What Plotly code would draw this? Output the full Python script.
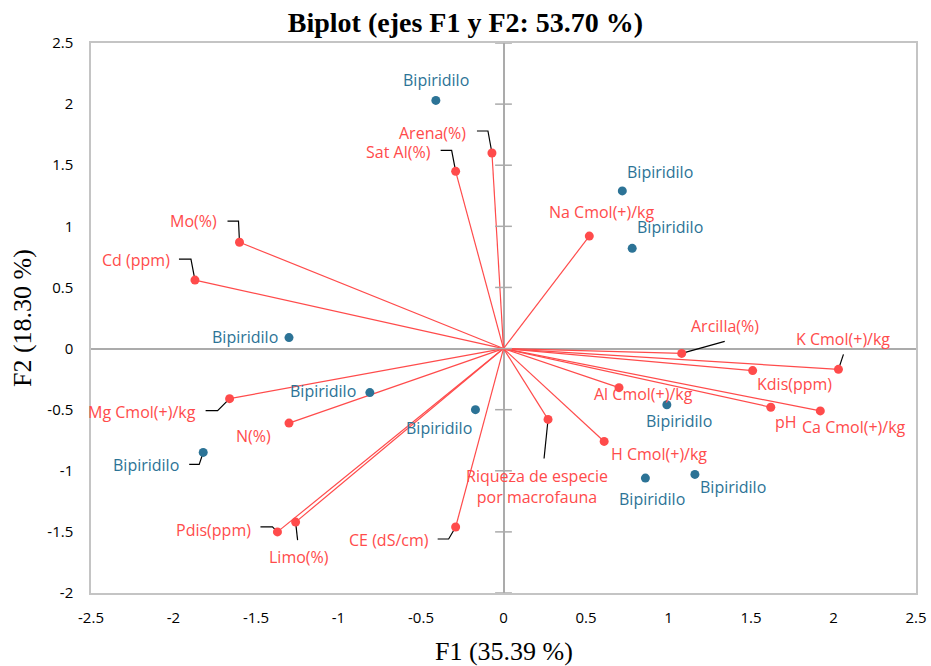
import plotly.graph_objects as go

# ---- data ----
var_names = ["Arena(%)", "Sat Al(%)", "Mo(%)", "Cd (ppm)", "Na Cmol(+)/kg", "Arcilla(%)",
             "K Cmol(+)/kg", "Kdis(ppm)", "Al Cmol(+)/kg", "pH", "Ca Cmol(+)/kg",
             "H Cmol(+)/kg", "Riqueza de especie<br>por macrofauna", "Mg Cmol(+)/kg",
             "N(%)", "Pdis(ppm)", "Limo(%)", "CE (dS/cm)"]
var_f1 = [-0.07, -0.29, -1.60, -1.87, 0.52, 1.08, 2.03, 1.51, 0.70, 1.62, 1.92,
          0.61, 0.27, -1.66, -1.30, -1.37, -1.26, -0.29]
var_f2 = [1.60, 1.45, 0.87, 0.56, 0.92, -0.04, -0.17, -0.18, -0.32, -0.48, -0.51,
          -0.76, -0.58, -0.41, -0.61, -1.50, -1.42, -1.46]

obs_name = "Bipiridilo"
obs_f1 = [-0.41, 0.72, 0.78, -1.30, -0.81, -0.17, -1.82, 0.99, 0.86, 1.16]
obs_f2 = [2.03, 1.29, 0.82, 0.09, -0.36, -0.50, -0.85, -0.46, -1.06, -1.03]

x_ticks = [-2.5, -2, -1.5, -1, -0.5, 0, 0.5, 1, 1.5, 2, 2.5]
y_ticks = [-2, -1.5, -1, -0.5, 0, 0.5, 1, 1.5, 2, 2.5]

# ---- styling / layout (pixel offsets for labels) ----
W, H = 931, 666
ML, MR, MT, MB = 91, 15, 43, 73
XR = [-2.5, 2.5]
YR = [-2, 2.5]
px_x = (W - ML - MR) / (XR[1] - XR[0])
px_y = (H - MT - MB) / (YR[1] - YR[0])

RED = "#FF4B4B"
BLUE = "#2C7396"
AX = "#ABABAB"
LABEL_FONT = "Open Sans"
LABEL_SIZE = 16

var_label_off = [(-59, -20), (-57, -19), (-46, -21), (-59, -20), (13, -24), (43, -27),
                 (5, -30), (42, 13), (24, 6), (15, 15), (34, 16), (55, 13), (-11, 67),
                 (-88, 13), (-36, 13), (-64, -2), (3, 35), (-67, 13)]
obs_label_off = [(0, -20), (38, -19), (38, -21), (-44, -1), (-47, -2), (-36, 18),
                 (-57, 13), (12, 16), (7, 21), (38, 13)]

# leader lines: (kind, index, list of pixel offsets relative to point)
leaders = [
    ("v", 0, [(-15, -22), (-4, -22), (0, 0)]),
    ("v", 1, [(-15, -21), (-4, -21), (0, 0)]),
    ("v", 2, [(-12, -21), (-1, -21), (0, 0)]),
    ("v", 3, [(-16, -21), (-4, -21), (0, 0)]),
    ("v", 13, [(-24, 12), (-12, 12), (0, 0)]),
    ("v", 15, [(-17, -5), (-5, -5), (0, 0)]),
    ("v", 16, [(0, 0), (2, 18)]),
    ("v", 17, [(-18, 12), (-7, 12), (0, 0)]),
    ("v", 5, [(0, 0), (43, -12)]),
    ("v", 6, [(0, 0), (5, -15)]),
    ("v", 12, [(0, 0), (-4, 39)]),
    ("o", 6, [(-14, 12), (-4, 12), (0, 0)]),
]

fig = go.Figure()

# vectors
for i, (x, y) in enumerate(zip(var_f1, var_f2)):
    fig.add_trace(go.Scatter(x=[0, x], y=[0, y], mode="lines",
                             line=dict(color=RED, width=1.2), hoverinfo="skip",
                             showlegend=False))

# leader lines
for kind, idx, offs in leaders:
    bx = var_f1[idx] if kind == "v" else obs_f1[idx]
    by = var_f2[idx] if kind == "v" else obs_f2[idx]
    lx = [bx + dx / px_x for dx, dy in offs]
    ly = [by - dy / px_y for dx, dy in offs]
    fig.add_trace(go.Scatter(x=lx, y=ly, mode="lines",
                             line=dict(color="black", width=1.2), hoverinfo="skip",
                             showlegend=False))

# tick crosses on vertical zero axis
fig.add_trace(go.Scatter(x=[0] * len(y_ticks), y=y_ticks, mode="markers",
                         marker=dict(symbol="line-ew", size=12,
                                     line=dict(color=AX, width=1.5)),
                         hoverinfo="skip", showlegend=False, cliponaxis=False))

# variable points
fig.add_trace(go.Scatter(x=var_f1, y=var_f2, mode="markers",
                         marker=dict(color=RED, size=9), showlegend=False,
                         text=var_names))
# observation points
fig.add_trace(go.Scatter(x=obs_f1, y=obs_f2, mode="markers",
                         marker=dict(color=BLUE, size=9), showlegend=False))

annotations = []
for name, x, y, (dx, dy) in zip(var_names, var_f1, var_f2, var_label_off):
    annotations.append(dict(x=x, y=y, xref="x", yref="y", text=name, showarrow=False,
                            xshift=dx, yshift=-dy, xanchor="center", yanchor="middle",
                            font=dict(family=LABEL_FONT, size=LABEL_SIZE, color=RED)))
for x, y, (dx, dy) in zip(obs_f1, obs_f2, obs_label_off):
    annotations.append(dict(x=x, y=y, xref="x", yref="y", text=obs_name, showarrow=False,
                            xshift=dx, yshift=-dy, xanchor="center", yanchor="middle",
                            font=dict(family=LABEL_FONT, size=LABEL_SIZE, color=BLUE)))

# axis titles
annotations.append(dict(x=0.5, y=0, xref="paper", yref="paper", text="F1 (35.39 %)",
                        showarrow=False, yshift=-58, xanchor="center", yanchor="middle",
                        font=dict(family="Liberation Serif", size=26, color="black")))
annotations.append(dict(x=0, y=0.5, xref="paper", yref="paper", text="F2 (18.30 %)",
                        showarrow=False, xshift=-69, xanchor="center", yanchor="middle",
                        textangle=-90,
                        font=dict(family="Liberation Serif", size=26, color="black")))

fig.update_layout(
    width=W, height=H,
    margin=dict(l=ML, r=MR, t=MT, b=MB, autoexpand=False),
    plot_bgcolor="white", paper_bgcolor="white",
    title=dict(text="<b>Biplot (ejes F1 y F2: 53.70 %)</b>", x=0.5, xanchor="center",
               y=1 - 22 / H, yanchor="middle", yref="container",
               font=dict(family="Liberation Serif", size=28, color="black")),
    annotations=annotations,
    xaxis=dict(range=XR, tickvals=x_ticks, ticktext=[f"{v:g}" for v in x_ticks],
               showgrid=False, zeroline=True, zerolinecolor=AX, zerolinewidth=1.5,
               showline=True, linecolor="#C4C4C4", linewidth=1.5, mirror=True,
               ticks="", ticklabelstandoff=10, automargin=False,
               tickfont=dict(family=LABEL_FONT, size=15, color="black")),
    yaxis=dict(range=YR, tickvals=y_ticks, ticktext=[f"{v:g}" for v in y_ticks],
               showgrid=False, zeroline=True, zerolinecolor=AX, zerolinewidth=1.5,
               showline=True, linecolor="#C4C4C4", linewidth=1.5, mirror=True,
               ticks="", ticklabelstandoff=13, automargin=False,
               tickfont=dict(family=LABEL_FONT, size=15, color="black")),
)

fig.write_html("out.html", config={"displayModeBar": False},
               post_script="document.body.style.margin='0';document.body.style.overflow='hidden';")
